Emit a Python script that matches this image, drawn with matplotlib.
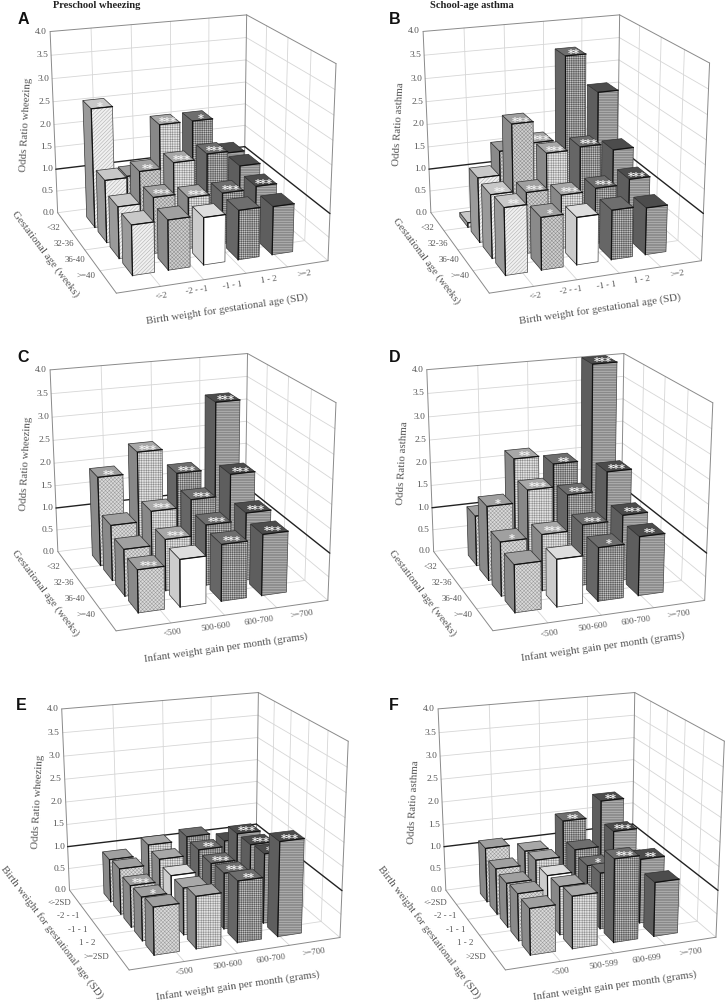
import numpy as np
import matplotlib
matplotlib.use("Agg")
import matplotlib.pyplot as plt
from matplotlib.patches import Polygon

plt.rcParams['font.family'] = ['Liberation Serif', 'DejaVu Serif']
plt.rcParams['hatch.linewidth'] = 0.35

# ---------- data: odds ratios, rows back-to-front, columns left-to-right ----------
z_ticks = [0.0, 0.5, 1.0, 1.5, 2.0, 2.5, 3.0, 3.5, 4.0]

ga_labels = ['<32', '32-36', '36-40', '>=40']
bw_labels = ['<-2', '-2 - -1', '-1 - 1', '1 - 2', '>=2']
gain_labels = ['<500', '500-600', '600-700', '>=700']
gain_labels_f = ['<500', '500-599', '600-699', '>=700']
bw_rows_e = ['<-2SD', '-2 - -1', '-1 - 1', '1 - 2', '>=2SD']
bw_rows_f = ['<-2SD', '-2 - -1', '-1 - 1', '1 - 2', '>2SD']

A_values = [[2.6, 1.05, 2.1, 2.1, 1.3],
            [1.35, 1.45, 1.55, 1.65, 1.3],
            [1.1, 1.2, 1.1, 1.1, 1.15],
            [1.05, 1.05, 1.0, 1.05, 1.03]]
A_stars = [['*', '', '***', '*', ''],
           ['', '**', '***', '***', ''],
           ['', '***', '***', '***', '***'],
           ['', '', '', '', '']]
B_values = [[0.1, 1.6, 1.7, 3.5, 2.65],
            [1.4, 2.45, 1.75, 1.8, 1.65],
            [1.35, 1.3, 1.15, 1.2, 1.3],
            [1.4, 1.1, 1.0, 1.05, 1.0]]
B_stars = [['', '', '***', '**', ''],
           ['', '***', '***', '***', ''],
           ['**', '***', '***', '***', '***'],
           ['**', '*', '', '', '']]
C_values = [[1.95, 2.4, 1.85, 3.3],
            [1.2, 1.4, 1.55, 2.0],
            [1.0, 1.1, 1.3, 1.45],
            [0.9, 1.0, 1.2, 1.3]]
C_stars = [['**', '***', '***', '***'],
           ['', '***', '***', '***'],
           ['', '***', '***', '***'],
           ['***', '', '***', '***']]
D_values = [[1.1, 2.25, 2.05, 4.15],
            [1.6, 1.85, 1.65, 2.05],
            [1.15, 1.2, 1.3, 1.4],
            [1.0, 1.0, 1.13, 1.25]]
D_stars = [['', '**', '**', '***'],
           ['*', '***', '***', '***'],
           ['*', '***', '***', '***'],
           ['', '', '*', '**']]
E_values = [[0.95, 1.17, 1.25, 1.05],
            [1.0, 1.1, 1.2, 1.45],
            [0.9, 1.0, 1.15, 1.45],
            [0.93, 1.0, 1.2, 1.5],
            [1.0, 1.1, 1.3, 2.0]]
E_stars = [['', '', '', ''],
           ['', '', '**', '***'],
           ['***', '', '***', '***'],
           ['*', '', '***', '***'],
           ['', '', '**', '***']]
F_values = [[1.2, 1.03, 1.6, 1.95],
            [1.0, 1.08, 1.2, 1.5],
            [0.95, 1.0, 1.1, 1.1],
            [1.0, 1.03, 1.2, 1.38],
            [0.97, 1.1, 1.75, 1.15]]
F_stars = [['', '', '**', '**'],
           ['', '', '', '***'],
           ['', '', '*', '***'],
           ['', '', '*', '**'],
           ['', '', '***', '']]

# ---------- styles per column ----------
STY5 = [('#f0f0f0', '#a8a8a8', '/' * 9, '#c8c8c8', '#9a9a9a'),
        ('#cfcfcf', '#8c8c8c', 'x' * 9, '#a0a0a0', '#8a8a8a'),
        ('#e4e4e4', '#8c8c8c', '+' * 7, '#a8a8a8', '#888888'),
        ('#c4c4c4', '#5a5a5a', '+' * 9, '#6e6e6e', '#666666'),
        ('#b0b0b0', '#606060', '-' * 10, '#4c4c4c', '#5e5e5e')]
STY4 = [('#dadada', '#9a9a9a', 'x' * 9, '#a0a0a0', '#8a8a8a'),
        ('#e2e2e2', '#8c8c8c', '+' * 7, '#a8a8a8', '#888888'),
        ('#c4c4c4', '#5a5a5a', '+' * 9, '#6e6e6e', '#666666'),
        ('#b0b0b0', '#606060', '-' * 10, '#4c4c4c', '#5e5e5e')]
REF = ('#ffffff', '#ffffff', '', '#dedede', '#cccccc')

fig = plt.figure(figsize=(7.26, 10.02), dpi=100)
ax = fig.add_axes([0, 0, 1, 1])
ax.set_xlim(0, 726)
ax.set_ylim(1002, 0)
ax.axis('off')

TXT = '#555555'
Z = [10]


def nz():
    Z[0] += 1
    return Z[0]


def camera(c):
    """Projective camera fitted to the panel's box corners."""
    world = [(0, 0, 4), (0, 0, 0), (1, 0, 4), (1, 1, 4), (1, 1, 0), (0, 1, 0),
             (0, 0, 1), (1, 0, 1), (1, 1, 1)]
    rows = []
    for (X, Y, W), (u, v) in zip(world, c):
        p = [X, Y, W, 1]
        rows.append(p + [0, 0, 0, 0] + [-u * q for q in p])
        rows.append([0, 0, 0, 0] + p + [-v * q for q in p])
    _, _, vt = np.linalg.svd(np.array(rows, float))
    return vt[-1].reshape(3, 4)


def proj(P, x, y, z):
    h = P @ np.array([x, y, z, 1.0])
    return h[:2] / h[2]


def line(P, a, b, color, lw, zorder=2):
    pa, pb = proj(P, *a), proj(P, *b)
    ax.plot([pa[0], pb[0]], [pa[1], pb[1]], color=color, lw=lw, zorder=zorder,
            solid_capstyle='round')


def panel(letter, off, corners, values, stars, ref, rlabels, clabels,
          xtitle, ytitle, ztitle, geom, layout):
    ox, oy = off
    P = camera([(ox + u / 3, oy + v / 3) for u, v in corners])
    nr, nc = len(values), len(values[0])
    sty = STY5 if nc == 5 else STY4
    grid = '#d6d6d6'
    edge = '#8a8a8a'
    # walls and floor
    for t in z_ticks[1:-1]:
        if t != 1.0:
            line(P, (0, 0, t), (1, 0, t), grid, .6)
            line(P, (1, 0, t), (1, 1, t), grid, .6)
    line(P, (0, 0, 0), (1, 0, 0), grid, .6)
    line(P, (1, 0, 0), (1, 1, 0), grid, .6)
    for i in range(1, nc):
        line(P, (i / nc, 0, 0), (i / nc, 0, 4), grid, .6)
        line(P, (i / nc, 0, 0), (i / nc, 1, 0), grid, .6)
    for j in range(1, nr):
        line(P, (1, j / nr, 0), (1, j / nr, 4), grid, .6)
        line(P, (0, j / nr, 0), (1, j / nr, 0), grid, .6)
    for a, b in [((0, 0, 0), (0, 0, 4)), ((0, 0, 4), (1, 0, 4)), ((1, 0, 4), (1, 1, 4)),
                 ((1, 1, 4), (1, 1, 0)), ((1, 1, 0), (0, 1, 0)), ((0, 1, 0), (0, 0, 0)),
                 ((1, 0, 0), (1, 0, 4))]:
        line(P, a, b, edge, .7, 3)
    line(P, (0, 0, 1), (1, 0, 1), '#222222', 1.0, 4)
    line(P, (1, 0, 1), (1, 1, 1), '#222222', 1.0, 4)

    # bars, far to near
    x0, xs, xw, y1, ys, yw = geom
    for r in range(nr):
        for c in range(nc - 1, -1, -1):
            v = min(values[r][c], 4.1)
            xa, xb = x0 + xs * c, x0 + xs * c + xw
            yb = y1 + ys * r
            ya = yb - yw
            fc, hc, ha, tc, sc = REF if (r, c) == ref else sty[c]
            pts = lambda *q: [proj(P, *k) for k in q]
            ax.add_patch(Polygon(pts((xa, ya, 0), (xa, yb, 0), (xa, yb, v), (xa, ya, v)),
                                 fc=sc, ec='#333333', lw=.5, zorder=nz()))
            ax.add_patch(Polygon(pts((xa, ya, v), (xa, yb, v), (xb, yb, v), (xb, ya, v)),
                                 fc=tc, ec='#333333', lw=.5, zorder=nz()))
            front = pts((xa, yb, 0), (xb, yb, 0), (xb, yb, v), (xa, yb, v))
            ax.add_patch(Polygon(front, fc=fc, ec=hc, hatch=ha or None, lw=0, zorder=nz()))
            ax.add_patch(Polygon(front, fill=False, ec='#444444', lw=.5, zorder=nz()))
            zz = nz()
            ax.plot([front[0][0], front[3][0], front[2][0]],
                    [front[0][1], front[3][1], front[2][1]], color='#111111', lw=.9, zorder=zz)
            if stars[r][c]:
                tp = proj(P, (xa + xb) / 2, yb - yw * .2, v)
                ax.text(tp[0], tp[1] + .5, stars[r][c], color='#f0f0f0', fontsize=8.2, weight='bold',
                        ha='center', va='center', family='DejaVu Sans', zorder=nz())

    # text
    for t in z_ticks:
        p = proj(P, 0, 0, t)
        ax.text(p[0] - 3, p[1], f'{t:.1f}', ha='right', va='center',
                fontsize=6.8, color=TXT, zorder=5)
    for lab, a, b, lst in [('r', layout['r0'], layout['r1'], rlabels),
                           ('c', layout['c0'], layout['c1'], clabels)]:
        xs_ = np.linspace(a[0], b[0], len(lst))
        ys_ = np.linspace(a[1], b[1], len(lst))
        for s, u, w in zip(lst, xs_, ys_):
            ax.text(ox + u / 3, oy + w / 3, s, ha='center', va='center', fontsize=6.4, color=TXT,
                    rotation=0 if lab == 'r' else 8, rotation_mode='anchor', zorder=5)
    for key, s in [('xt', xtitle), ('yt', ytitle), ('zt', ztitle)]:
        u, w, rot = layout[key]
        ax.text(ox + u / 3, oy + w / 3, s, ha='center', va='center', fontsize=7.8, color=TXT,
                rotation=rot, rotation_mode='anchor')
    u, w = layout['let']
    ax.text(ox + u / 3, oy + w / 3, letter, ha='center', va='center', fontsize=11.5, weight='bold',
            family='Liberation Sans', color='#111111')


G54 = (.12, .1675, .103, .25, .2, .145)
G44 = (.148, .197, .123, .25, .2, .145)
G45 = (.148, .197, .118, .22, .168, .118)

# box corners: left-top, left-bottom, back-top, right-top, right-bottom, front-bottom,
# left z=1, back z=1, right z=1 (positions in zoomed-panel units)
panel('A', (0, 0), [(150, 95), (172, 637), (740, 45), (1008, 190), (983, 783), (350, 880),
                    (168, 508), (735, 440), (990, 640)],
      A_values, A_stars, (3, 2), ga_labels, bw_labels,
      'Birth weight for gestational age (SD)', 'Gestational age (weeks)', 'Odds Ratio wheezing', G54,
      dict(r0=(160, 685), r1=(258, 828), c0=(485, 888), c1=(912, 823), xt=(680, 927, 8.5),
           yt=(137, 762, -53), zt=(78, 375, 87), let=(70, 58)))
panel('B', (363, 0), [(180, 95), (203, 637), (770, 45), (1040, 188), (1015, 783), (380, 880),
                      (198, 507), (765, 440), (1020, 640)],
      B_values, B_stars, (3, 2), ga_labels, bw_labels,
      'Birth weight for gestational age (SD)', 'Gestational age (weeks)', 'Odds Ratio asthma', G54,
      dict(r0=(192, 685), r1=(290, 828), c0=(517, 888), c1=(943, 823), xt=(710, 927, 8.5),
           yt=(190, 782, -53), zt=(107, 372, 87), let=(95, 58)))
panel('C', (0, 335), [(150, 105), (172, 650), (742, 55), (1008, 203), (983, 795), (348, 888),
                      (170, 518), (737, 455), (990, 655)],
      C_values, C_stars, (3, 1), ga_labels, gain_labels,
      'Infant weight gain per month (grams)', 'Gestational age (weeks)', 'Odds Ratio wheezing', G44,
      dict(r0=(160, 697), r1=(258, 840), c0=(518, 893), c1=(906, 838), xt=(678, 938, 8),
           yt=(137, 775, -53), zt=(78, 385, 87), let=(68, 68)))
panel('D', (363, 335), [(192, 105), (213, 650), (782, 55), (1050, 203), (1025, 795), (390, 888),
                        (205, 516), (777, 455), (1030, 655)],
      D_values, D_stars, (3, 1), ga_labels, gain_labels,
      'Infant weight gain per month (grams)', 'Gestational age (weeks)', 'Odds Ratio asthma', G44,
      dict(r0=(203, 697), r1=(300, 840), c0=(560, 895), c1=(948, 838), xt=(720, 935, 8),
           yt=(178, 775, -53), zt=(118, 383, 87), let=(95, 68)))
panel('E', (0, 670), [(185, 117), (208, 660), (775, 68), (1045, 213), (1020, 803), (388, 900),
                      (203, 530), (770, 462), (1025, 662)],
      E_values, E_stars, (2, 1), bw_rows_e, gain_labels,
      'Infant weight gain per month (grams)', 'Birth weight for gestational age (SD)', 'Odds Ratio wheezing', G45,
      dict(r0=(178, 698), r1=(290, 860), c0=(553, 905), c1=(943, 848), xt=(715, 947, 8),
           yt=(155, 785, -53), zt=(113, 395, 87), let=(65, 105)))
panel('F', (363, 670), [(225, 117), (248, 660), (815, 68), (1085, 213), (1060, 803), (428, 900),
                        (243, 530), (810, 462), (1062, 660)],
      F_values, F_stars, (2, 1), bw_rows_f, gain_labels_f,
      'Infant weight gain per month (grams)', 'Birth weight for gestational age (SD)', 'Odds Ratio asthma', G45,
      dict(r0=(218, 698), r1=(338, 860), c0=(593, 905), c1=(983, 848), xt=(755, 947, 8),
           yt=(197, 785, -53), zt=(153, 395, 87), let=(92, 105)))

ax.text(97, 5, 'Preschool wheezing', ha='center', va='center', fontsize=7.6, weight='bold', color='#222222')
ax.text(472, 5, 'School-age asthma', ha='center', va='center', fontsize=7.6, weight='bold', color='#222222')

fig.savefig('out.png', dpi=100)
